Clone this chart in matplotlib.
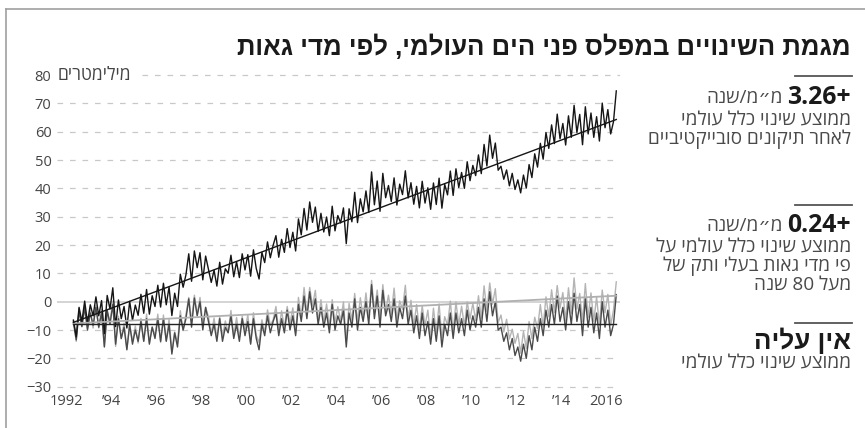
import re
import matplotlib
matplotlib.use("Agg")
import matplotlib.pyplot as plt
import numpy as np
from matplotlib.lines import Line2D

# ---- data (mm), one value every 1/8 year ----
start_year = 1992.33
step = 0.125

# satellite sea level after corrections
sat = [
    -6.5, -12.4, -2.0, -7.0, 0.2, -7.5, -1.1, -5.0,
    1.7, -5.0, 0.4, -11.3, 2.2, -2.6, 4.9, -8.8,
    0.6, -6.0, -1.7, -9.3, 0.1, -6.6, -1.2, -4.8,
    2.6, -4.1, 4.3, -4.4, 2.1, -1.7, 5.8, -1.9,
    6.5, -1.1, 5.2, -4.9, 3.0, -1.7, 9.7, 5.1,
    9.5, 16.9, 7.2, 17.9, 12.0, 17.3, 7.7, 16.1,
    11.4, 6.8, 11.1, 5.5, 13.9, 6.2, 11.6, 10.0,
    16.4, 8.8, 14.1, 8.5, 16.9, 11.2, 16.6, 9.0,
    18.3, 11.7, 8.0, 17.4, 13.8, 21.1, 15.5, 19.9,
    23.3, 15.7, 22.0, 17.4, 25.8, 19.1, 24.5, 17.9,
    29.2, 23.6, 32.9, 25.3, 35.2, 28.0, 33.4, 24.8,
    31.2, 24.6, 29.9, 23.3, 33.7, 25.0, 30.4, 27.8,
    33.1, 20.5, 32.8, 28.2, 38.6, 27.9, 36.3, 31.7,
    39.1, 31.5, 45.8, 34.2, 42.6, 31.9, 45.3, 36.7,
    41.0, 35.4, 43.7, 34.1, 41.5, 37.8, 46.2, 36.6,
    42.0, 34.4, 40.7, 33.1, 42.5, 34.8, 40.2, 32.6,
    41.9, 34.3, 43.6, 33.0, 41.4, 37.7, 46.1, 37.5,
    46.9, 40.3, 45.6, 40.0, 49.4, 42.7, 48.1, 44.5,
    51.8, 45.2, 55.5, 47.9, 58.8, 50.6, 56.0, 46.4,
    47.8, 43.2, 46.5, 40.9, 45.3, 39.6, 43.0, 38.4,
    44.7, 40.1, 48.4, 43.8, 52.2, 47.5, 55.9, 50.3,
    59.7, 54.1, 62.4, 55.8, 66.2, 57.5, 62.9, 55.3,
    65.6, 58.0, 69.3, 59.7, 66.1, 55.4, 68.8, 59.2,
    66.6, 58.0, 65.3, 56.7, 70.1, 61.4, 67.8, 59.2,
    63.5, 74.4,
]

# series without rise (dark gray)
flat = [
    -7.2, -13.5, -3.4, -8.8, -2, -10, -4, -8.3,
    -2, -9, -4, -16, -3, -8, -1, -15,
    -6, -13, -9, -17, -8, -15, -10, -14,
    -7, -14, -6, -15, -9, -13, -6, -14,
    -6, -14, -8, -18.5, -11, -16, -5, -10,
    -6, 1, -9, 1.3, -5, 0, -10, -2,
    -7, -12, -8, -14, -6, -14, -9, -11,
    -5, -13, -8, -14, -6, -12, -7, -15,
    -6, -13, -17, -8, -12, -5, -11, -7,
    -4, -12, -6, -11, -3, -10, -5, -12,
    -1, -7, 2, -6, 3.5, -4, 1, -8,
    -2, -9, -4, -11, -1, -10, -5, -8,
    -3, -16, -4, -9, 1, -10, -2, -7,
    0, -8, 6, -6, 2, -9, 4, -5,
    -1, -7, 1, -9, -2, -6, 2, -8,
    -3, -11, -5, -13, -4, -12, -7, -15,
    -6, -14, -5, -16, -8, -12, -4, -13,
    -4, -11, -6, -12, -3, -10, -5, -9,
    -2, -9, 1, -7, 3.5, -5, 0, -10,
    -9, -14, -11, -17, -13, -19, -16, -21,
    -15, -20, -12, -17, -9, -14, -6, -12,
    -3, -9, -1, -8, 2, -7, -2, -10,
    0, -8, 3, -7, -1, -12, 1, -9,
    -2, -11, -4, -13, 0, -9, -3, -12,
    -8, 2.5,
]

# tide gauges older than 80 years (light gray)
tide = [
    -6.7, -14.0, -2.4, -8.8, -2.5, -9.5, -3.0, -9.3,
    -1.3, -9.3, -2.8, -15.8, -3.3, -7.3, 0.2, -15.8,
    -5.1, -13.1, -7.6, -16.6, -8.1, -14.1, -8.6, -14.6,
    -5.9, -13.9, -4.4, -14.4, -8.9, -11.9, -4.4, -14.4,
    -4.7, -13.7, -6.2, -17.7, -10.7, -14.7, -3.2, -10.2,
    -4.5, 1.5, -7.0, 2.3, -4.5, 1.5, -8.0, -2.0,
    -5.3, -11.3, -5.8, -12.8, -5.3, -12.3, -6.8, -10.8,
    -3.1, -12.1, -5.6, -12.6, -5.1, -10.1, -4.6, -14.6,
    -3.9, -11.9, -14.4, -6.4, -10.9, -2.9, -8.4, -6.4,
    -1.7, -10.7, -3.2, -9.2, -1.7, -7.7, -2.2, -11.2,
    1.5, -5.5, 5.0, -4.0, 5.0, -1.5, 4.0, -7.0,
    0.7, -7.3, -0.8, -8.8, 0.7, -7.3, -1.8, -6.8,
    -0.1, -14.1, -0.6, -6.6, 2.9, -7.1, 1.4, -5.6,
    3.1, -5.9, 7.5, -3.4, 4.1, -5.9, 6.0, -3.4,
    2.3, -4.7, 4.8, -6.2, 0.3, -2.7, 5.8, -6.2,
    0.5, -8.5, -1.0, -10.0, -1.5, -8.5, -3.0, -13.0,
    -2.3, -11.3, -0.8, -12.8, -5.3, -8.3, 0.2, -10.8,
    -0.1, -8.1, -1.6, -8.6, -0.1, -6.1, -0.6, -6.6,
    2.1, -5.9, 5.6, -3.4, 6.6, -0.9, 4.6, -7.4,
    -4.7, -10.7, -6.2, -13.2, -9.7, -14.7, -11.2, -18.2,
    -10.5, -16.5, -7.0, -13.0, -5.5, -9.5, -1.0, -9.0,
    1.7, -5.3, 4.2, -3.8, 5.7, -2.3, 3.2, -6.8,
    4.9, -4.1, 8.4, -2.6, 2.9, -7.1, 6.4, -5.6,
    3.1, -6.9, 1.6, -8.4, 4.1, -3.9, 2.6, -8.4,
    -3.0, 7.0,
]

# trend lines: value at first and last sample
sat_trend = [-7.3, 64.3]
tide_trend = [-7.7, 2.1]
flat_level = [-8, -8]

rate_sat = 3.26
rate_tide = 0.24

year_ticks = list(range(1992, 2017, 2))
year_labels = ["1992", "’94", "’96", "’98", "’00", "’02", "’04", "’06",
               "’08", "’10", "’12", "’14", "2016"]
y_ticks = list(range(-30, 90, 10))

title = "מגמת השינויים במפלס פני הים העולמי, לפי מדי גאות"
unit = "מילימטרים"
per_year = "מ״מ/שנה"
block1 = ["ממוצע שינוי כלל עולמי", "לאחר תיקונים סובייקטיביים"]
block2 = ["ממוצע שינוי כלל עולמי על", "פי מדי גאות בעלי ותק של", "מעל 80 שנה"]
block3_head = "אין עליה"
block3 = ["ממוצע שינוי כלל עולמי"]


def vis(s):
    # matplotlib draws left to right: put Hebrew in visual order, keep numbers
    r = s[::-1]
    return re.sub(r"[0-9A-Za-z.]+", lambda m: m.group(0)[::-1], r)


plt.rcParams["font.family"] = ["Open Sans", "DejaVu Sans"]
head_font = ["Liberation Sans", "DejaVu Sans"]

W, H = 865, 428
fig = plt.figure(figsize=(W / 100, H / 100), dpi=100)
fig.patch.set_facecolor("white")


def fx(x):
    return x / W


def fy(y):
    return 1 - y / H


# axes: x 57..620 px, y 72..389.5 px
ax = fig.add_axes([fx(57), fy(389.5), (620 - 57) / W, (389.5 - 72.2) / H])
ax.set_xlim(1991.6, 2016.62)
ax.set_ylim(-31, 81)
for s in ax.spines.values():
    s.set_visible(False)

grid_kw = dict(color="#c8c8c8", lw=0.9, ls=(0, (4.5, 5.5)), zorder=0)
for v in y_ticks:
    if v == 0:
        ax.axhline(0, color="#d4d4d4", lw=1.4, zorder=0)
    elif v == 80:
        ax.axhline(v, xmin=(142 - 57) / (620 - 57), **grid_kw)
    else:
        ax.axhline(v, **grid_kw)

years = start_year + step * np.arange(len(sat))
ends = [years[0], years[-1]]

ax.plot(years, tide, color="#b4b4b4", lw=1.0, zorder=2)
ax.plot(years, flat, color="#4a4a4a", lw=1.0, zorder=3)
ax.plot(years, sat, color="#151515", lw=1.0, zorder=4)
ax.plot(ends, tide_trend, color="#b0b0b0", lw=1.3, zorder=5)
ax.plot(ends, flat_level, color="#222222", lw=1.0, zorder=5)
ax.plot(ends, sat_trend, color="#151515", lw=1.0, zorder=5)

ax.set_yticks(y_ticks)
ax.set_yticklabels([str(v).replace("-", "−") for v in y_ticks])
ax.set_xticks(year_ticks)
ax.set_xticklabels(year_labels)
ax.tick_params(length=0, labelsize=10.5, labelcolor="#444444")
ax.tick_params(axis="y", pad=4)
ax.tick_params(axis="x", pad=3)

renderer = fig.canvas.get_renderer()


def fit(t, width):
    w = t.get_window_extent(renderer).width
    t.set_fontsize(t.get_fontsize() * width / w)


u = ax.text((58 - 57) / (620 - 57), 80, vis(unit), transform=ax.get_yaxis_transform(),
            ha="left", va="center", fontsize=10.5, color="#444444")
fit(u, 74)

# frame around the graphic
fig.add_artist(Line2D([fx(6), 1], [fy(9), fy(9)], color="#a0a0a0", lw=1.2))
fig.add_artist(Line2D([fx(6), fx(6)], [0, fy(9)], color="#a0a0a0", lw=1.2))

t = fig.text(fx(851), fy(55), vis(title), ha="right", va="baseline",
             fontsize=18, weight="bold", color="#1a1a1a", family=head_font)
fit(t, 615)

# right-hand notes
body_kw = dict(ha="right", va="center", color="#4a4a4a", fontsize=12)
probe = fig.text(fx(851), fy(120), vis(block1[0]), **body_kw)
fit(probe, 169)
body_size = probe.get_fontsize()
body_kw["fontsize"] = body_size

for y in [76, 205, 323]:
    fig.add_artist(Line2D([fx(795), fx(852)], [fy(y), fy(y)], color="#555555", lw=1.3))

num_kw = dict(ha="right", va="center", weight="bold", color="#1a1a1a", fontsize=body_size * 1.3)
fig.text(fx(851), fy(97), f"{rate_sat:.2f}+", **num_kw)
fig.text(fx(783), fy(98), vis(per_year), **body_kw)
fig.text(fx(851), fy(139), vis(block1[1]), **body_kw)

fig.text(fx(851), fy(225), f"{rate_tide:.2f}+", **num_kw)
fig.text(fx(783), fy(226), vis(per_year), **body_kw)
for i, line in enumerate(block2):
    fig.text(fx(851), fy(247 + 19 * i), vis(line), **body_kw)

h = fig.text(fx(851), fy(341), vis(block3_head), ha="right", va="center",
             weight="bold", color="#1a1a1a", fontsize=16, family=head_font)
fit(h, 97)
fig.text(fx(851), fy(363), vis(block3[0]), **body_kw)

fig.savefig("out.png", dpi=100)
